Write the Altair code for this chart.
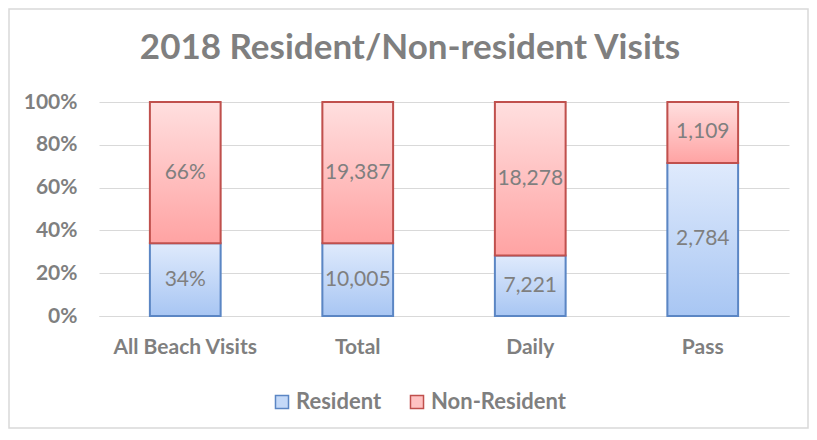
import altair as alt
import pandas as pd

title_text = "2018 Resident/Non-resident Visits"
categories = ["All Beach Visits", "Total", "Daily", "Pass"]
resident = [34, 10005, 7221, 2784]
non_resident = [66, 19387, 18278, 1109]
series = ["Resident", "Non-Resident"]

rows = []
for i, c in enumerate(categories):
    for s, vals, order in [("Resident", resident, 0), ("Non-Resident", non_resident, 1)]:
        v = vals[i]
        lab = f"{v}%" if c == "All Beach Visits" else f"{v:,}"
        rows.append({"cat": c, "series": s, "value": v, "order": order, "label": lab})
df = pd.DataFrame(rows)

GRAY = "#7f7f7f"
FONT = "Lato"

res_grad = {"gradient": "linear", "x1": 0, "y1": 0, "x2": 0, "y2": 1,
            "stops": [{"offset": 0, "color": "#dfeafc"}, {"offset": 1, "color": "#a8c6f3"}]}
non_grad = {"gradient": "linear", "x1": 0, "y1": 0, "x2": 0, "y2": 1,
            "stops": [{"offset": 0, "color": "#ffdfdf"}, {"offset": 1, "color": "#ffa3a3"}]}

base = alt.Chart(df).transform_joinaggregate(
    total="sum(value)", groupby=["cat"]
).transform_calculate(
    frac="datum.value / datum.total"
).transform_stack(
    stack="frac", groupby=["cat"], sort=[alt.SortField("order", order="ascending")], as_=["y0", "y1"]
).transform_calculate(
    mid="(datum.y0 + datum.y1) / 2"
)

xenc = alt.X("cat:N", sort=categories, title=None,
             scale=alt.Scale(paddingInner=0.59, paddingOuter=0.295),
             axis=alt.Axis(labelAngle=0, labelFontSize=21, labelFontWeight="bold",
                           labelColor=GRAY, labelFont=FONT, ticks=False, labelPadding=20,
                           domainColor="#d9d9d9", grid=False))
yenc = alt.Y("y0:Q", title=None,
             scale=alt.Scale(domain=[0, 1], nice=False),
             axis=alt.Axis(format=".0%", values=[0, 0.2, 0.4, 0.6, 0.8, 1.0],
                           labelFontSize=21, labelFontWeight="bold", labelColor=GRAY,
                           labelFont=FONT, ticks=False, domain=False, labelPadding=22,
                           gridColor="#d9d9d9", gridWidth=1.2))

stroke_scale = alt.Scale(domain=series, range=["#5b86c4", "#c0504d"])
color_scale = alt.Scale(domain=series, range=["#c4d9f8", "#ffc2c2"])

legend = alt.Legend(title=None, orient="none", direction="horizontal",
                    legendX=172, legendY=289, symbolType="square", symbolSize=170,
                    symbolStrokeWidth=1.5, labelFontSize=22, labelFontWeight="bold",
                    labelColor=GRAY, labelFont=FONT, columnPadding=24, labelOffset=3)

bars_legend = base.mark_bar().encode(
    x=xenc, y=yenc, y2="y1:Q",
    color=alt.Color("series:N", scale=color_scale, legend=legend),
    stroke=alt.Stroke("series:N", scale=stroke_scale, legend=legend),
)

bars = base.mark_bar(strokeWidth=2).encode(
    x=xenc, y=yenc, y2="y1:Q",
    fill=alt.condition("datum.series === 'Resident'", alt.value(res_grad), alt.value(non_grad)),
    stroke=alt.Stroke("series:N", scale=stroke_scale, legend=legend),
)

text = base.mark_text(fontSize=21, color=GRAY, font=FONT).encode(
    x=alt.X("cat:N", sort=categories),
    y=alt.Y("mid:Q"),
    text="label:N",
)

one = alt.Data(values=[{}])
frame = alt.Chart(one).mark_rect(filled=False, stroke="#d9d9d9", strokeWidth=1.5).encode(
    x=alt.value(-90), x2=alt.value(709), y=alt.value(-93), y2=alt.value(326)
)
title = alt.Chart(one).mark_text(fontSize=35, fontWeight="bold", color=GRAY, font=FONT,
                                 align="center", baseline="middle").encode(
    x=alt.value(311), y=alt.value(-54), text=alt.value(title_text)
)

chart = alt.layer(frame, bars_legend, bars, text, title).properties(
    width=690, height=214,
    padding={"left": 91, "top": 94, "right": 20, "bottom": 114},
    autosize=alt.AutoSizeParams(type="none"),
).configure_view(stroke=None)

chart.save("out.html", embed_options={"renderer": "svg", "actions": False})
